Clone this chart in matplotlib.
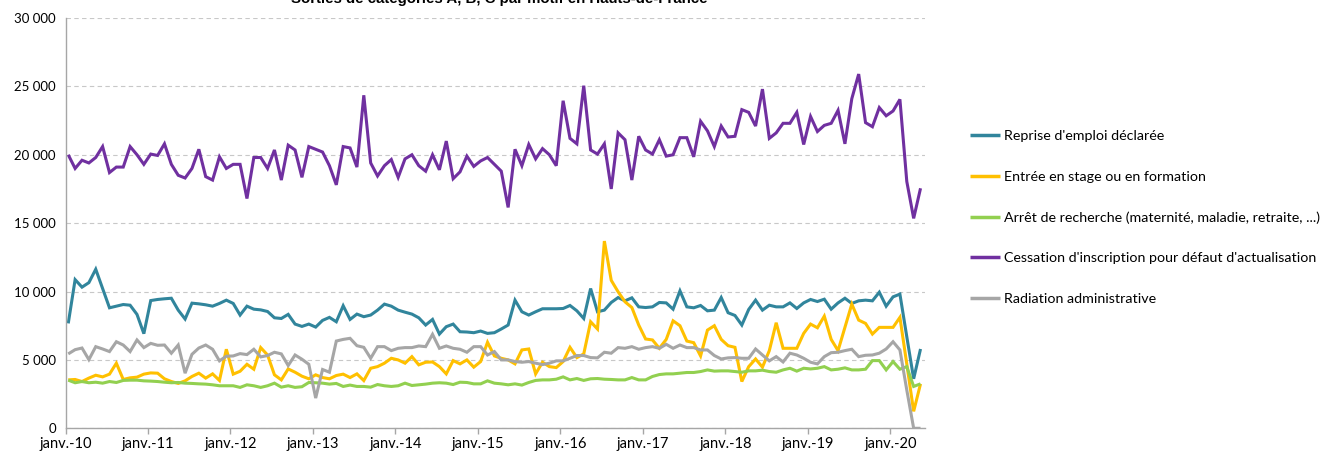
"""Sorties de catégories A, B, C par motif en Hauts-de-France, janv. 2010 - mai 2020."""
import numpy as np
import matplotlib
matplotlib.use('Agg')
import matplotlib.pyplot as plt
from matplotlib.ticker import FuncFormatter, MultipleLocator

plt.rcParams['font.family'] = ['Lato', 'DejaVu Sans']

# ── Data (monthly, janv.-10 .. mai-20) ───────────────────────────────────────
reprise = [
    7670, 10870, 10320, 10650, 11630, 10220, 8810, 8930, 9050, 9000, 8330, 6920,
    9340, 9420, 9470, 9510, 8640, 7990, 9150, 9100, 9030, 8930, 9130, 9370,
    9130, 8280, 8930, 8710, 8660, 8540, 8080, 8030, 8330, 7620, 7450, 7620,
    7400, 7890, 8110, 7790, 8960, 7960, 8350, 8160, 8280, 8640, 9080, 8930,
    8640, 8490, 8350, 8080, 7550, 7960, 6890, 7430, 7620, 7060, 7040, 6990,
    7110, 6940, 6990, 7260, 7550, 9370, 8520, 8280, 8520, 8740, 8740, 8740,
    8760, 8980, 8590, 8030, 10220, 8520, 8640, 9200, 9560, 9320, 9540, 8880,
    8830, 8880, 9200, 9170, 8710, 10050, 8880, 8810, 8980, 8590, 8640, 9560,
    8450, 8250, 7550, 8690, 9370, 8640, 9000, 8880, 8880, 9170, 8760, 9170,
    9420, 9270, 9440, 8710, 9170, 9510, 9130, 9320, 9370, 9320, 9950, 8930,
    9610, 9810, 6700, 3620, 5800,
]
stage = [
    3540, 3570, 3420, 3670, 3880, 3760, 3960, 4760, 3570, 3690, 3740, 3960,
    4050, 4030, 3620, 3420, 3280, 3470, 3790, 4030, 3670, 3980, 3500, 5780,
    3960, 4170, 4680, 4320, 5900, 5360, 3910, 3540, 4340, 4100, 3810, 3620,
    3910, 3710, 3620, 3860, 3960, 3710, 3980, 3490, 4390, 4510, 4760, 5120,
    5000, 4760, 5240, 4640, 4830, 4850, 4510, 3980, 4950, 4710, 5000, 4470,
    4880, 6290, 5290, 5120, 5000, 4710, 5730, 5800, 3980, 4830, 4510, 4440,
    4880, 5920, 5170, 5440, 7790, 7260, 13690, 10820, 9980, 9250, 8830, 7550,
    6530, 6460, 5850, 6500, 7860, 7500, 6380, 6260, 5290, 7180, 7500, 6500,
    6040, 5920, 3420, 4510, 5070, 4470, 5680, 7720, 5850, 5850, 5850, 6940,
    7620, 7350, 8200, 6500, 5680, 7380, 9080, 7910, 7670, 6890, 7380, 7380,
    7380, 8110, 4700, 1240, 3250,
]
arret = [
    3520, 3330, 3420, 3330, 3370, 3300, 3420, 3350, 3500, 3520, 3520, 3470,
    3450, 3420, 3370, 3330, 3350, 3300, 3280, 3250, 3230, 3180, 3110, 3110,
    3110, 2990, 3180, 3110, 2990, 3110, 3300, 3010, 3110, 2990, 3040, 3350,
    3330, 3300, 3230, 3280, 3060, 3160, 3060, 3060, 3010, 3200, 3110, 3060,
    3110, 3300, 3130, 3180, 3230, 3300, 3330, 3300, 3200, 3370, 3350, 3250,
    3250, 3470, 3300, 3250, 3180, 3250, 3160, 3350, 3500, 3540, 3540, 3590,
    3760, 3540, 3640, 3500, 3620, 3640, 3590, 3570, 3540, 3540, 3710, 3540,
    3540, 3790, 3930, 3980, 3980, 4030, 4080, 4080, 4150, 4270, 4180, 4200,
    4200, 4150, 4100, 4200, 4200, 4250, 4150, 4100, 4270, 4390, 4180, 4390,
    4340, 4390, 4510, 4270, 4320, 4420, 4270, 4270, 4320, 4950, 4950, 4270,
    4880, 4320, 4510, 3060, 3250,
]
cessation = [
    20000, 19000, 19600, 19400, 19800, 20600, 18700, 19100, 19100, 20600, 20000, 19300,
    20050, 19950, 20800, 19300, 18500, 18300, 19000, 20400, 18400, 18150, 19850, 19000,
    19300, 19300, 16800, 19800, 19800, 19000, 20350, 18150, 20700, 20350, 18350, 20600,
    20400, 20200, 19200, 17800, 20600, 20500, 19100, 24350, 19400, 18450, 19200, 19650,
    18350, 19700, 20000, 19200, 18800, 20000, 18900, 21000, 18250, 18750, 19900, 19150,
    19550, 19800, 19300, 18800, 16150, 20400, 19200, 20750, 19700, 20450, 20000, 19200,
    23950, 21200, 20800, 25050, 20350, 20050, 20800, 17500, 21600, 21100, 18150, 21350,
    20350, 20050, 21100, 19900, 20000, 21250, 21250, 19850, 22450, 21750, 20600, 22100,
    21300, 21350, 23300, 23100, 22100, 24800, 21200, 21600, 22300, 22300, 23100, 20750,
    22800, 21700, 22150, 22300, 23250, 20800, 24100, 25900, 22350, 22050, 23450, 22850,
    23200, 24050, 18050, 15350, 17550,
]
radiation = [
    5440, 5750, 5870, 5020, 5970, 5800, 5610, 6330, 6090, 5610, 6460, 5900,
    6210, 6070, 6090, 5490, 6090, 4030, 5410, 5870, 6090, 5780, 4930, 5270,
    5290, 5460, 5390, 5780, 5220, 5320, 5560, 5440, 4590, 5360, 5050, 4680,
    2210, 4300, 4100, 6380, 6500, 6580, 6040, 5920, 5120, 5970, 5970, 5680,
    5850, 5900, 5900, 6020, 5970, 6870, 5850, 6020, 5850, 5780, 5560, 5970,
    5970, 5360, 5610, 5000, 5000, 4880, 4830, 4880, 4760, 4660, 4760, 4930,
    4930, 5120, 5320, 5320, 5170, 5150, 5560, 5490, 5900, 5850, 5970, 5780,
    5900, 5970, 5850, 6140, 5850, 6090, 5900, 5900, 5730, 5730, 5320, 5070,
    5150, 5170, 5120, 5120, 5800, 5360, 4930, 5240, 4850, 5490, 5360, 5120,
    4830, 4710, 5240, 5530, 5560, 5680, 5780, 5240, 5340, 5360, 5490, 5800,
    6330, 5730, 2800, 0, 0,
]

series = [
    ("Reprise d'emploi déclarée", reprise, '#31859C'),
    ("Entrée en stage ou en formation", stage, '#FFC000'),
    ("Arrêt de recherche (maternité, maladie, retraite, ...)", arret, '#92D050'),
    ("Cessation d'inscription pour défaut d'actualisation", cessation, '#7030A0'),
    ("Radiation administrative", radiation, '#A6A6A6'),
]
year_labels = [f'janv.-{y:02d}' for y in range(10, 21)]

n = len(reprise)
for _, vals, _ in series:
    assert len(vals) == n
months = np.arange(n)

# ── Plot ─────────────────────────────────────────────────────────────────────
W, H = 1323, 454
fig = plt.figure(figsize=(W / 100, H / 100), dpi=100)
ax = fig.add_axes([65.5 / W, 1 - 428.3 / H, (925 - 65.5) / W, (428.3 - 18) / H])

for label, vals, color in series:
    ax.plot(months, vals, color=color, lw=2.2, label=label,
            solid_joinstyle='miter', solid_capstyle='butt')

ax.set_xlim(-0.4, n - 0.35)
ax.set_ylim(0, 30000)
ax.yaxis.set_major_locator(MultipleLocator(5000))
ax.yaxis.set_major_formatter(FuncFormatter(lambda v, _: f'{int(v):,}'.replace(',', ' ')))
ax.set_xticks(np.arange(0, n, 12) - 0.4)
ax.set_xticklabels(year_labels)

ax.grid(axis='y', color='#c8c8c8', ls=(0, (4, 3)), lw=0.8)
ax.set_axisbelow(True)
for s in ('top', 'right'):
    ax.spines[s].set_visible(False)
for s in ('left', 'bottom'):
    ax.spines[s].set_color('#a6a6a6')
    ax.spines[s].set_linewidth(1.0)
ax.tick_params(axis='x', length=4, width=1, color='#a6a6a6', pad=2,
               labelsize=10.5, labelcolor='#000000')
ax.tick_params(axis='y', length=0, pad=7, labelsize=9.5, labelcolor='#000000')

leg = ax.legend(loc='center left', bbox_to_anchor=(970 / W, 1 - 217.5 / H),
                bbox_transform=fig.transFigure, frameon=False, fontsize=10.3,
                handlelength=2.1, handletextpad=0.3, labelspacing=2.0,
                borderaxespad=0, borderpad=0)
for line in leg.get_lines():
    line.set_linewidth(2.5)

fig.text(499 / W, 1 - 3.5 / H, 'Sorties de catégories A, B, C par motif en Hauts-de-France',
         ha='center', va='baseline', fontsize=10.8, fontweight='bold',
         family='Liberation Sans')

fig.savefig('out.png', dpi=100)
plt.close(fig)
